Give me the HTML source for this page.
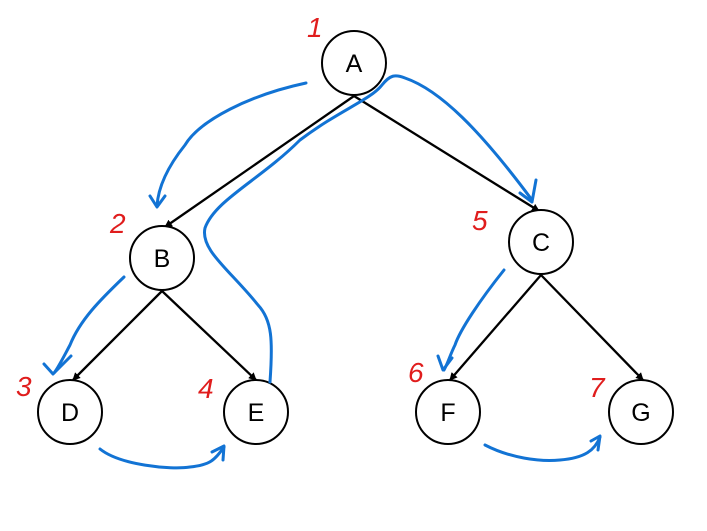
<!DOCTYPE html>
<html><head><meta charset="utf-8"><style>
html,body{margin:0;padding:0;background:#fff;}
svg{display:block}
text{font-family:"Liberation Sans",sans-serif}
</style></head><body>
<svg width="707" height="531" viewBox="0 0 707 531" xmlns="http://www.w3.org/2000/svg">
<defs>
<marker id="ah" markerWidth="8" markerHeight="8" refX="7" refY="4" orient="auto" markerUnits="userSpaceOnUse">
<path d="M0,0 L8,4 L0,8 z" fill="#000"/>
</marker>
</defs>
<g stroke="#000" stroke-width="2.3" fill="none" marker-end="url(#ah)">
<line x1="354" y1="96" x2="165" y2="227"/>
<line x1="354" y1="96" x2="539" y2="211"/>
<line x1="162" y1="291" x2="73" y2="380"/>
<line x1="162" y1="291" x2="256" y2="380"/>
<line x1="541" y1="275" x2="450" y2="380"/>
<line x1="541" y1="275" x2="643" y2="380"/>
</g>
<g stroke="#000" stroke-width="2" fill="#fff">
<circle cx="354" cy="63" r="32"/>
<circle cx="162" cy="258" r="32"/>
<circle cx="541" cy="242" r="32"/>
<circle cx="70" cy="412" r="32"/>
<circle cx="256" cy="412" r="32"/>
<circle cx="448" cy="412" r="32"/>
<circle cx="641" cy="412" r="32"/>
</g>
<g font-size="25" text-anchor="middle" fill="#000">
<text x="354" y="72">A</text>
<text x="162" y="267">B</text>
<text x="541" y="251">C</text>
<text x="70" y="421">D</text>
<text x="256" y="421">E</text>
<text x="448" y="421">F</text>
<text x="641" y="421">G</text>
</g>
<g stroke="#1273d4" stroke-width="3" fill="none" stroke-linecap="round" stroke-linejoin="round">
<path d="M306,83 C250,95 200,120 185,145 C165,170 158,190 157,206"/>
<path d="M150,196 L157,207 L165,196"/>
<path d="M270,382 C273,340 272,320 258,305 C230,270 200,250 205,228 C215,200 260,180 300,140 C340,110 370,100 382,85 C390,75 395,74 405,78 C440,90 480,130 532,200"/>
<path d="M520,193 L532,202 L536,180"/>
<path d="M124,277 C100,300 80,320 70,345 C62,360 58,368 54,373"/>
<path d="M44,364 L53,374 L71,356"/>
<path d="M100,449 C120,465 170,470 190,467 C210,465 215,460 224,447"/>
<path d="M212,452 L224,446 L223,460"/>
<path d="M504,270 C480,300 460,330 455,345 C450,355 448,363 444,370"/>
<path d="M438,356 L443,370 L452,358"/>
<path d="M485,445 C510,458 540,462 560,460 C585,458 595,450 600,437"/>
<path d="M591,441 L600,436 L598,450"/>
</g>
<g fill="#e01d1d" font-size="28" font-style="italic" font-family="Liberation Sans, sans-serif">
<text x="307" y="37">1</text>
<text x="110" y="233">2</text>
<text x="472" y="230">5</text>
<text x="16" y="396">3</text>
<text x="198" y="398">4</text>
<text x="408" y="382">6</text>
<text x="589" y="397">7</text>
</g>
</svg>
</body></html>
